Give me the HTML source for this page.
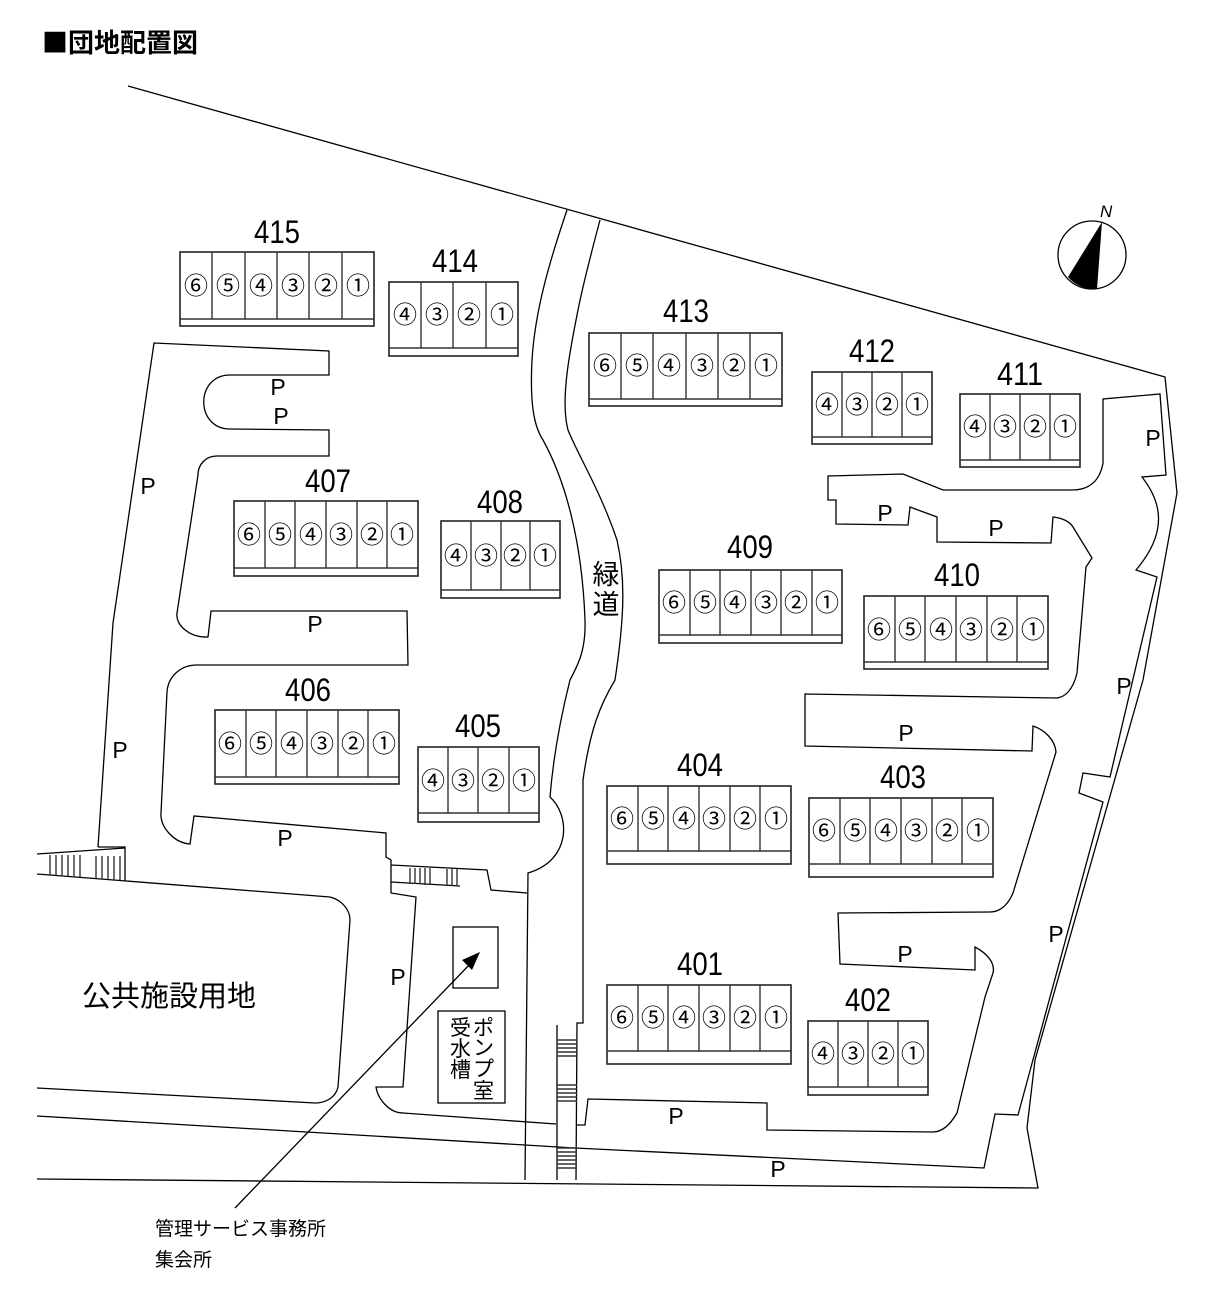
<!DOCTYPE html>
<html><head><meta charset="utf-8"><style>
html,body{margin:0;padding:0;background:#fff;width:1212px;height:1316px;overflow:hidden}
svg{display:block}
text{font-family:"Liberation Sans","Noto Sans CJK JP",sans-serif;fill:#000}
.l{fill:none;stroke:#000;stroke-width:1.3}
.b{fill:#fff;stroke:#222;stroke-width:1.6}
.u{stroke:#333;stroke-width:1.4}
.n{font-size:32px;text-anchor:middle}
.c{font-size:24px;text-anchor:middle;font-family:"Noto Sans CJK JP","DejaVu Sans",sans-serif}
.p{font-size:23px;text-anchor:middle}
</style></head><body>
<svg width="1212" height="1316" viewBox="0 0 1212 1316" xmlns="http://www.w3.org/2000/svg">
<text x="42" y="52" style="font-size:26px;font-weight:bold;font-family:'Noto Sans CJK JP',sans-serif">■団地配置図</text>

<polyline class="l" points="128,86 1165,377 1177,493 1143,680 1035,1060 1027,1128 1038,1188 37,1179"/>
<path class="l" d="M37,1116 L575,1148 L984,1168 L995,1114 L1018,1115 L1103,802 L1079,793 L1083,773 L1110,777 L1157,577 L1136,570 C1170,530 1160,500 1142,477 L1166,475 L1160,394 L1103,399 L1103,463 C1100,480 1090,490 1072,490 L943,490 L903,474 L828,476 L828,500 L836,500 L836,524 L908,525 L910,507 L937,517 L937,542 L1051,543 L1053,517 C1063,518 1070,522 1073,527 L1092,558 L1086,567 L1077,673 C1073,690 1065,697 1057,698 L805,694 L805,746 L1032,751 L1033,726 C1045,730 1055,740 1056,752 L1013,893 C1008,905 1000,912 990,912 L838,913 L840,964 L975,970 L975,947 C990,955 995,965 993,973 L985,997 L957,1113 C950,1125 942,1132 933,1132 L767,1130 L767,1103 L588,1099 L585,1125 L576,1125"/>
<polyline class="l" points="98,847 113,623 154,343 329,351 329,375 230,375"/>
<path class="l" d="M230,375 C195,375 195,429 230,429 L329,430 L329,456 L217,456 C205,456 198,465 198,475 L177,613 C175,625 190,638 208,637 L211,611 L407,611 L408,665 L197,665 C180,665 168,677 167,692 L161,813 C160,828 175,843 190,844 L194,816 L386,833 L386,857 L391,860 L391,893 L416,897 L403,1087 L376,1087 C378,1100 390,1113 403,1113 L556,1124"/>
<polyline class="l" points="98,847 125,847 125,881"/>
<path class="l" d="M37,874 L330,897 C342,900 350,910 350,920 L338,1087 C336,1097 326,1103 315,1103 L37,1088"/>
<polyline class="l" points="37,854 125,848"/>
<g class="u" stroke-width="1">
<line x1="50" y1="855" x2="50" y2="875"/><line x1="56" y1="855" x2="56" y2="875"/><line x1="62" y1="855" x2="62" y2="876"/><line x1="68" y1="855" x2="68" y2="876"/><line x1="74" y1="855" x2="74" y2="877"/><line x1="80" y1="855" x2="80" y2="877"/>
<line x1="96" y1="856" x2="96" y2="878"/><line x1="102" y1="856" x2="102" y2="879"/><line x1="108" y1="856" x2="108" y2="879"/><line x1="114" y1="856" x2="114" y2="880"/><line x1="120" y1="856" x2="120" y2="880"/>
</g>
<polyline class="l" points="391,865 487,870 491,890 527,893"/>
<polyline class="l" points="391,882 460,886"/>
<g class="u" stroke-width="1">
<line x1="410" y1="868" x2="410" y2="884"/><line x1="415" y1="868" x2="415" y2="884"/><line x1="420" y1="868" x2="420" y2="884"/><line x1="425" y1="868" x2="425" y2="885"/><line x1="430" y1="868" x2="430" y2="885"/>
<line x1="447" y1="869" x2="447" y2="886"/><line x1="452" y1="869" x2="452" y2="886"/><line x1="457" y1="869" x2="457" y2="886"/>
</g>
<path class="l" d="M567,210 C550,260 535,310 532,360 C530,400 533,425 543,440 C565,480 582,540 585,620 C586,650 578,665 570,680 C560,720 553,760 550,797 C570,815 572,860 528,873 L525,1180"/>
<path class="l" d="M600,220 C592,250 584,280 578,310 C570,350 560,400 568,430 C578,455 600,490 617,540 C626,580 624,620 615,680 C600,705 590,730 583,780 L583,1023 L577,1023 L576,1180"/>
<line class="l" x1="557" y1="1025" x2="557" y2="1180"/>
<g class="u" stroke-width="1">
<line x1="557" y1="1040" x2="577" y2="1040"/><line x1="557" y1="1044" x2="577" y2="1044"/><line x1="557" y1="1048" x2="577" y2="1048"/><line x1="557" y1="1052" x2="577" y2="1052"/><line x1="557" y1="1056" x2="577" y2="1056"/>
<line x1="557" y1="1085" x2="577" y2="1085"/><line x1="557" y1="1089" x2="577" y2="1089"/><line x1="557" y1="1093" x2="577" y2="1093"/><line x1="557" y1="1097" x2="577" y2="1097"/><line x1="557" y1="1101" x2="577" y2="1101"/>
<line x1="557" y1="1148" x2="577" y2="1148"/><line x1="557" y1="1152" x2="577" y2="1152"/><line x1="557" y1="1156" x2="577" y2="1156"/><line x1="557" y1="1160" x2="577" y2="1160"/><line x1="557" y1="1164" x2="577" y2="1164"/><line x1="557" y1="1168" x2="577" y2="1168"/>
</g>
<text x="606" y="584" style="font-size:27px;text-anchor:middle">緑</text>
<text x="606" y="614" style="font-size:27px;text-anchor:middle">道</text>

<rect class="l" x="453" y="927" width="45" height="61"/>
<rect class="l" x="438" y="1011" width="67" height="92"/>
<text style="font-size:21px" x="473" y="1035">ポ</text><text style="font-size:21px" x="473" y="1055">ン</text><text style="font-size:21px" x="473" y="1076">プ</text><text style="font-size:21px" x="473" y="1098">室</text>
<text style="font-size:21px" x="450" y="1035">受</text><text style="font-size:21px" x="450" y="1056">水</text><text style="font-size:21px" x="450" y="1077">槽</text>
<line x1="235" y1="1208" x2="472" y2="962" stroke="#000" stroke-width="1.3"/>
<polygon points="480,952 462,960 472,970" fill="#000"/>
<text x="155" y="1235" style="font-size:19px">管理サービス事務所</text>
<text x="155" y="1266" style="font-size:19px">集会所</text>
<text x="82" y="1006" style="font-size:29px">公共施設用地</text>

<circle cx="1092" cy="255" r="34" fill="#fff" stroke="#000" stroke-width="1.3"/>
<path d="M1102,222 L1068,277 A34,34 0 0 0 1097,289 Z" fill="#000"/>
<text x="1100" y="217" style="font-size:17px;font-style:italic">N</text>

<g class="p">
<text x="278" y="395">P</text><text x="281" y="424">P</text><text x="148" y="494">P</text><text x="315" y="632">P</text><text x="120" y="758">P</text><text x="285" y="846">P</text><text x="398" y="985">P</text><text x="885" y="521">P</text><text x="996" y="536">P</text><text x="1153" y="446">P</text><text x="1124" y="694">P</text><text x="906" y="741">P</text><text x="905" y="962">P</text><text x="1056" y="942">P</text><text x="676" y="1124">P</text><text x="778" y="1177">P</text>
</g>

<g><rect class="b" x="180" y="252" width="194" height="74"/><line class="u" x1="180" y1="319" x2="374" y2="319"/><line class="u" x1="212" y1="252" x2="212" y2="319"/><line class="u" x1="245" y1="252" x2="245" y2="319"/><line class="u" x1="277" y1="252" x2="277" y2="319"/><line class="u" x1="309" y1="252" x2="309" y2="319"/><line class="u" x1="342" y1="252" x2="342" y2="319"/>
<text class="c" x="196" y="294">⑥</text><text class="c" x="228" y="294">⑤</text><text class="c" x="261" y="294">④</text><text class="c" x="293" y="294">③</text><text class="c" x="326" y="294">②</text><text class="c" x="358" y="294">①</text>
<text class="n" x="277" y="243" textLength="46" lengthAdjust="spacingAndGlyphs">415</text></g>

<g><rect class="b" x="389" y="282" width="129" height="74"/><line class="u" x1="389" y1="348" x2="518" y2="348"/><line class="u" x1="421" y1="282" x2="421" y2="348"/><line class="u" x1="453" y1="282" x2="453" y2="348"/><line class="u" x1="486" y1="282" x2="486" y2="348"/>
<text class="c" x="405" y="323">④</text><text class="c" x="437" y="323">③</text><text class="c" x="469" y="323">②</text><text class="c" x="502" y="323">①</text>
<text class="n" x="455" y="272" textLength="46" lengthAdjust="spacingAndGlyphs">414</text></g>

<g><rect class="b" x="589" y="333" width="193" height="73"/><line class="u" x1="589" y1="399" x2="782" y2="399"/><line class="u" x1="621" y1="333" x2="621" y2="399"/><line class="u" x1="653" y1="333" x2="653" y2="399"/><line class="u" x1="686" y1="333" x2="686" y2="399"/><line class="u" x1="718" y1="333" x2="718" y2="399"/><line class="u" x1="750" y1="333" x2="750" y2="399"/>
<text class="c" x="605" y="374">⑥</text><text class="c" x="637" y="374">⑤</text><text class="c" x="669" y="374">④</text><text class="c" x="702" y="374">③</text><text class="c" x="734" y="374">②</text><text class="c" x="766" y="374">①</text>
<text class="n" x="686" y="322" textLength="46" lengthAdjust="spacingAndGlyphs">413</text></g>

<g><rect class="b" x="812" y="372" width="120" height="72"/><line class="u" x1="812" y1="437" x2="932" y2="437"/><line class="u" x1="842" y1="372" x2="842" y2="437"/><line class="u" x1="872" y1="372" x2="872" y2="437"/><line class="u" x1="902" y1="372" x2="902" y2="437"/>
<text class="c" x="827" y="413">④</text><text class="c" x="857" y="413">③</text><text class="c" x="887" y="413">②</text><text class="c" x="917" y="413">①</text>
<text class="n" x="872" y="362" textLength="46" lengthAdjust="spacingAndGlyphs">412</text></g>

<g><rect class="b" x="960" y="394" width="120" height="73"/><line class="u" x1="960" y1="460" x2="1080" y2="460"/><line class="u" x1="990" y1="394" x2="990" y2="460"/><line class="u" x1="1020" y1="394" x2="1020" y2="460"/><line class="u" x1="1050" y1="394" x2="1050" y2="460"/>
<text class="c" x="975" y="435">④</text><text class="c" x="1005" y="435">③</text><text class="c" x="1035" y="435">②</text><text class="c" x="1065" y="435">①</text>
<text class="n" x="1020" y="385" textLength="46" lengthAdjust="spacingAndGlyphs">411</text></g>

<g><rect class="b" x="234" y="501" width="184" height="75"/><line class="u" x1="234" y1="568" x2="418" y2="568"/><line class="u" x1="265" y1="501" x2="265" y2="568"/><line class="u" x1="295" y1="501" x2="295" y2="568"/><line class="u" x1="326" y1="501" x2="326" y2="568"/><line class="u" x1="357" y1="501" x2="357" y2="568"/><line class="u" x1="387" y1="501" x2="387" y2="568"/>
<text class="c" x="249" y="543">⑥</text><text class="c" x="280" y="543">⑤</text><text class="c" x="311" y="543">④</text><text class="c" x="341" y="543">③</text><text class="c" x="372" y="543">②</text><text class="c" x="402" y="543">①</text>
<text class="n" x="328" y="492" textLength="46" lengthAdjust="spacingAndGlyphs">407</text></g>

<g><rect class="b" x="441" y="521" width="119" height="77"/><line class="u" x1="441" y1="590" x2="560" y2="590"/><line class="u" x1="471" y1="521" x2="471" y2="590"/><line class="u" x1="501" y1="521" x2="501" y2="590"/><line class="u" x1="530" y1="521" x2="530" y2="590"/>
<text class="c" x="456" y="564">④</text><text class="c" x="486" y="564">③</text><text class="c" x="515" y="564">②</text><text class="c" x="545" y="564">①</text>
<text class="n" x="500" y="513" textLength="46" lengthAdjust="spacingAndGlyphs">408</text></g>

<g><rect class="b" x="215" y="710" width="184" height="74"/><line class="u" x1="215" y1="777" x2="399" y2="777"/><line class="u" x1="246" y1="710" x2="246" y2="777"/><line class="u" x1="276" y1="710" x2="276" y2="777"/><line class="u" x1="307" y1="710" x2="307" y2="777"/><line class="u" x1="338" y1="710" x2="338" y2="777"/><line class="u" x1="368" y1="710" x2="368" y2="777"/>
<text class="c" x="230" y="752">⑥</text><text class="c" x="261" y="752">⑤</text><text class="c" x="292" y="752">④</text><text class="c" x="322" y="752">③</text><text class="c" x="353" y="752">②</text><text class="c" x="384" y="752">①</text>
<text class="n" x="308" y="701" textLength="46" lengthAdjust="spacingAndGlyphs">406</text></g>

<g><rect class="b" x="418" y="747" width="121" height="75"/><line class="u" x1="418" y1="813" x2="539" y2="813"/><line class="u" x1="448" y1="747" x2="448" y2="813"/><line class="u" x1="478" y1="747" x2="478" y2="813"/><line class="u" x1="509" y1="747" x2="509" y2="813"/>
<text class="c" x="433" y="789">④</text><text class="c" x="463" y="789">③</text><text class="c" x="493" y="789">②</text><text class="c" x="524" y="789">①</text>
<text class="n" x="478" y="737" textLength="46" lengthAdjust="spacingAndGlyphs">405</text></g>

<g><rect class="b" x="659" y="570" width="183" height="73"/><line class="u" x1="659" y1="635" x2="842" y2="635"/><line class="u" x1="690" y1="570" x2="690" y2="635"/><line class="u" x1="720" y1="570" x2="720" y2="635"/><line class="u" x1="751" y1="570" x2="751" y2="635"/><line class="u" x1="781" y1="570" x2="781" y2="635"/><line class="u" x1="812" y1="570" x2="812" y2="635"/>
<text class="c" x="674" y="611">⑥</text><text class="c" x="705" y="611">⑤</text><text class="c" x="735" y="611">④</text><text class="c" x="766" y="611">③</text><text class="c" x="796" y="611">②</text><text class="c" x="827" y="611">①</text>
<text class="n" x="750" y="558" textLength="46" lengthAdjust="spacingAndGlyphs">409</text></g>

<g><rect class="b" x="864" y="596" width="184" height="73"/><line class="u" x1="864" y1="662" x2="1048" y2="662"/><line class="u" x1="895" y1="596" x2="895" y2="662"/><line class="u" x1="925" y1="596" x2="925" y2="662"/><line class="u" x1="956" y1="596" x2="956" y2="662"/><line class="u" x1="987" y1="596" x2="987" y2="662"/><line class="u" x1="1017" y1="596" x2="1017" y2="662"/>
<text class="c" x="879" y="638">⑥</text><text class="c" x="910" y="638">⑤</text><text class="c" x="941" y="638">④</text><text class="c" x="971" y="638">③</text><text class="c" x="1002" y="638">②</text><text class="c" x="1033" y="638">①</text>
<text class="n" x="957" y="586" textLength="46" lengthAdjust="spacingAndGlyphs">410</text></g>

<g><rect class="b" x="607" y="786" width="184" height="78"/><line class="u" x1="607" y1="851" x2="791" y2="851"/><line class="u" x1="638" y1="786" x2="638" y2="851"/><line class="u" x1="668" y1="786" x2="668" y2="851"/><line class="u" x1="699" y1="786" x2="699" y2="851"/><line class="u" x1="730" y1="786" x2="730" y2="851"/><line class="u" x1="760" y1="786" x2="760" y2="851"/>
<text class="c" x="622" y="827">⑥</text><text class="c" x="653" y="827">⑤</text><text class="c" x="684" y="827">④</text><text class="c" x="714" y="827">③</text><text class="c" x="745" y="827">②</text><text class="c" x="776" y="827">①</text>
<text class="n" x="700" y="776" textLength="46" lengthAdjust="spacingAndGlyphs">404</text></g>

<g><rect class="b" x="809" y="798" width="184" height="79"/><line class="u" x1="809" y1="864" x2="993" y2="864"/><line class="u" x1="840" y1="798" x2="840" y2="864"/><line class="u" x1="870" y1="798" x2="870" y2="864"/><line class="u" x1="901" y1="798" x2="901" y2="864"/><line class="u" x1="932" y1="798" x2="932" y2="864"/><line class="u" x1="962" y1="798" x2="962" y2="864"/>
<text class="c" x="824" y="839">⑥</text><text class="c" x="855" y="839">⑤</text><text class="c" x="886" y="839">④</text><text class="c" x="916" y="839">③</text><text class="c" x="947" y="839">②</text><text class="c" x="978" y="839">①</text>
<text class="n" x="903" y="788" textLength="46" lengthAdjust="spacingAndGlyphs">403</text></g>

<g><rect class="b" x="607" y="985" width="184" height="79"/><line class="u" x1="607" y1="1051" x2="791" y2="1051"/><line class="u" x1="638" y1="985" x2="638" y2="1051"/><line class="u" x1="668" y1="985" x2="668" y2="1051"/><line class="u" x1="699" y1="985" x2="699" y2="1051"/><line class="u" x1="730" y1="985" x2="730" y2="1051"/><line class="u" x1="760" y1="985" x2="760" y2="1051"/>
<text class="c" x="622" y="1026">⑥</text><text class="c" x="653" y="1026">⑤</text><text class="c" x="684" y="1026">④</text><text class="c" x="714" y="1026">③</text><text class="c" x="745" y="1026">②</text><text class="c" x="776" y="1026">①</text>
<text class="n" x="700" y="975" textLength="46" lengthAdjust="spacingAndGlyphs">401</text></g>

<g><rect class="b" x="808" y="1021" width="120" height="74"/><line class="u" x1="808" y1="1087" x2="928" y2="1087"/><line class="u" x1="838" y1="1021" x2="838" y2="1087"/><line class="u" x1="868" y1="1021" x2="868" y2="1087"/><line class="u" x1="898" y1="1021" x2="898" y2="1087"/>
<text class="c" x="823" y="1062">④</text><text class="c" x="853" y="1062">③</text><text class="c" x="883" y="1062">②</text><text class="c" x="913" y="1062">①</text>
<text class="n" x="868" y="1011" textLength="46" lengthAdjust="spacingAndGlyphs">402</text></g>
</svg>
</body></html>
